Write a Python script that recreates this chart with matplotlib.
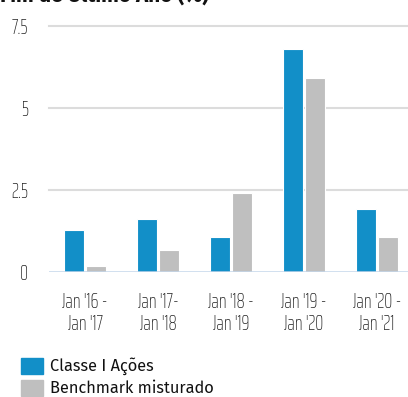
import matplotlib
matplotlib.use("Agg")
import matplotlib.pyplot as plt
import numpy as np

periods = ["Jan '16 -\nJan '17", "Jan '17-\nJan '18", "Jan '18 -\nJan '19",
           "Jan '19 -\nJan '20", "Jan '20 -\nJan '21"]
classe_i = [1.29, 1.62, 1.09, 6.79, 1.92]
benchmark = [0.18, 0.68, 2.41, 5.92, 1.09]
y_ticks = [0, 2.5, 5, 7.5]
y_tick_labels = ["0", "2.5", "5", "7.5"]
series_names = ["Classe I Ações", "Benchmark misturado"]

BLUE = "#128fc8"
GREY = "#bfbfbf"
narrow = ["Saira ExtraCondensed", "DejaVu Sans"]
sans = ["Fira Sans", "DejaVu Sans"]

fig = plt.figure(figsize=(4.08, 3.97), dpi=100)
ax = fig.add_axes([48.5 / 408, 124.7 / 397, 365 / 408, 246.3 / 397])

x = np.arange(len(periods))
w = 0.27
off = 0.149
ax.bar(x - off, classe_i, width=w, color=BLUE, edgecolor="white", linewidth=0.8, zorder=3)
ax.bar(x + off, benchmark, width=w, color=GREY, edgecolor="white", linewidth=0.8, zorder=3)

ax.set_xlim(-0.5, len(periods) - 0.5)
ax.set_ylim(0, 7.5)
ax.set_yticks(y_ticks)
ax.set_yticklabels(y_tick_labels, family=narrow, fontsize=14.5, fontweight="light", color="#222222")
ax.set_xticks(x)
ax.set_xticklabels(periods, family=narrow, fontsize=14.5, fontweight="light", color="#222222",
                   linespacing=1.15)
ax.tick_params(axis="both", length=0)
ax.tick_params(axis="y", pad=14.5)
ax.tick_params(axis="x", pad=14)
for s in ax.spines.values():
    s.set_visible(False)
for yv in y_ticks[1:]:
    ax.axhline(yv, color="#dcdcdc", linewidth=1.5, zorder=1, clip_on=False)
ax.axhline(0, color="#c4d6ea", linewidth=1.8, zorder=4)

fig.text(0.0, 1 - 3 / 397, "Fim de Último Ano (%)", fontsize=15, fontweight="bold",
         ha="left", va="baseline", color="#111111", family=sans)

# legend
for i, (name, col) in enumerate(zip(series_names, [BLUE, GREY])):
    y0 = 397 - 374 - i * 22
    fig.patches.append(plt.Rectangle((21 / 408, y0 / 397), 22 / 408, 16 / 397,
                                     transform=fig.transFigure, color=col, figure=fig))
    fig.text(50 / 408, (y0 + 7.5) / 397, name, fontsize=11.8, va="center", ha="left",
             color="#111111", family=sans)

fig.savefig("out.png", dpi=100)
